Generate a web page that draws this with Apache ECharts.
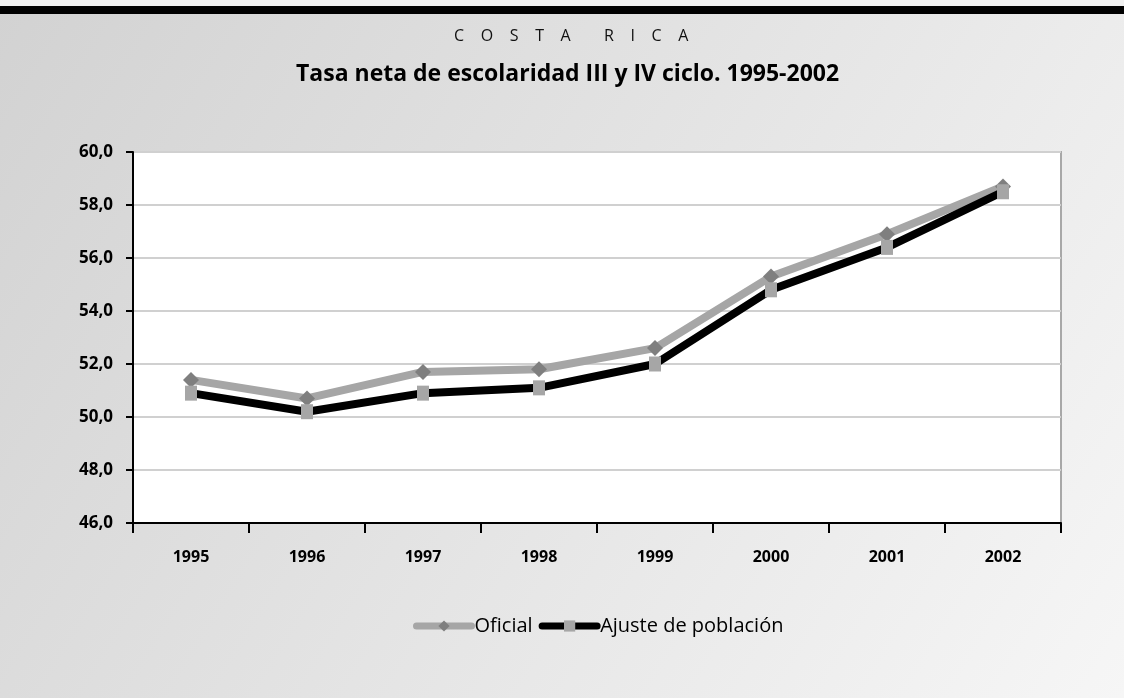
<!DOCTYPE html>
<html>
<head>
<meta charset="utf-8">
<script src="https://cdn.jsdelivr.net/npm/echarts@6/dist/echarts.min.js"></script>
<style>
  html, body { margin: 0; padding: 0; }
  #chart { width: 1124px; height: 698px; }
</style>
</head>
<body>
<div id="chart"></div>
<script>
// datos
var years = ['1995', '1996', '1997', '1998', '1999', '2000', '2001', '2002'];
var oficial = [51.4, 50.7, 51.7, 51.8, 52.6, 55.3, 56.9, 58.7];
var ajuste = [50.9, 50.2, 50.9, 51.1, 52.0, 54.8, 56.4, 58.5];
var yTicks = { min: 46, max: 60, interval: 2 };

var FONT = '"Open Sans", "Noto Sans", sans-serif';
var chart = echarts.init(document.getElementById('chart'));

chart.setOption({
  backgroundColor: new echarts.graphic.LinearGradient(0, 0, 1, 1, [
    { offset: 0, color: '#d2d2d2' },
    { offset: 1, color: '#f6f6f6' }
  ]),
  graphic: [
    { type: 'rect', shape: { x: 0, y: 0, width: 1124, height: 6 }, style: { fill: '#f0f0f0' } },
    { type: 'rect', shape: { x: 0, y: 6, width: 1124, height: 8 }, style: { fill: '#000' } }
  ],
  title: [{
    text: 'C    O    S    T    A        R    I    C    A',
    left: 449, top: 23,
    textStyle: { fontFamily: FONT, fontSize: 16, fontWeight: 'normal', color: '#111' }
  }, {
    text: 'Tasa neta de escolaridad III y IV ciclo. 1995-2002',
    left: 291, top: 58,
    textStyle: { fontFamily: FONT, fontSize: 23, fontWeight: 'bold', color: '#000' }
  }],
  legend: {
    top: 611, left: 408,
    itemWidth: 55, itemHeight: 14, itemGap: 6,
    lineStyle: { width: 7, cap: 'round' },
    textStyle: { fontFamily: FONT, fontSize: 20, color: '#000', padding: [0, 0, 0, -2] },
    data: ['Oficial', 'Ajuste de población']
  },
  grid: {
    left: 133, right: 63, top: 152, bottom: 175,
    show: true, backgroundColor: '#fff', borderColor: '#a8a8a8', borderWidth: 2
  },
  xAxis: {
    type: 'category', data: years, boundaryGap: true,
    axisLine: { lineStyle: { color: '#000', width: 2 } },
    axisTick: { show: true, length: 10, lineStyle: { color: '#000', width: 2 } },
    axisLabel: { fontFamily: FONT, fontSize: 16, fontWeight: 'bold', color: '#000', margin: 26 }
  },
  yAxis: {
    type: 'value', min: yTicks.min, max: yTicks.max, interval: yTicks.interval,
    axisLine: { show: true, lineStyle: { color: '#000', width: 2 } },
    axisTick: { show: true, length: 7, lineStyle: { color: '#000', width: 2 } },
    axisLabel: {
      fontFamily: FONT, fontSize: 17, fontWeight: 'bold', color: '#000', margin: 20,
      formatter: function (v) { return v.toFixed(1).replace('.', ','); }
    },
    splitLine: { lineStyle: { color: '#d0d0d0', width: 2 } }
  },
  series: [{
    name: 'Oficial', type: 'line', data: oficial,
    lineStyle: { color: '#a6a6a6', width: 8 },
    itemStyle: { color: '#7f7f7f' },
    symbol: 'diamond', symbolSize: [16, 16],
    z: 2
  }, {
    name: 'Ajuste de población', type: 'line', data: ajuste,
    lineStyle: { color: '#000', width: 8 },
    itemStyle: { color: '#a6a6a6' },
    symbol: 'rect', symbolSize: [12, 15],
    z: 3
  }],
  animation: false
});
</script>
</body>
</html>
